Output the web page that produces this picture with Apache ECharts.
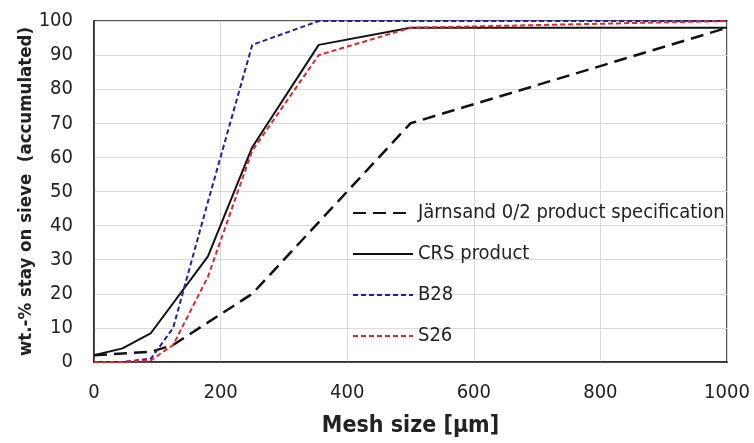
<!DOCTYPE html>
<html>
<head>
<meta charset="utf-8">
<script src="https://cdn.jsdelivr.net/npm/echarts@6/dist/echarts.min.js"></script>
<style>
  html, body { margin: 0; padding: 0; background: #fff; }
  #chart { width: 754px; height: 443px; }
</style>
</head>
<body>
<div id="chart"></div>
<script>
// Sieve mesh sizes (µm) and accumulated retained mass (%)
const meshSizes = [0, 45, 90, 125, 180, 250, 355, 500, 1000];
const b28 = [0, 0, 1, 10, 47, 93, 100, 100, 100];
const s26 = [0, 0, 0.5, 5, 25, 62, 90, 98, 100];

const crsMesh = [0, 45, 90, 180, 250, 355, 500, 1000];
const crsProduct = [2, 4, 8.5, 31, 63, 93, 98, 98];

const jarnsandMesh = [0, 90, 125, 250, 500, 1000];
const jarnsandSpec = [2, 3, 5, 20, 70, 98];

const seriesNames = ['Järnsand 0/2 product specification', 'CRS product', 'B28', 'S26'];
const xTicks = { min: 0, max: 1000, step: 200 };
const yTicks = { min: 0, max: 100, step: 10 };

const FONT = '"DejaVu Sans Condensed", "DejaVu Sans", sans-serif';

const pairs = (xs, ys) => xs.map((x, i) => [x, ys[i]]);

const chart = echarts.init(document.getElementById('chart'), null, { renderer: 'canvas' });

chart.setOption({
  animation: false,
  backgroundColor: '#ffffff',
  grid: {
    left: 94, right: 27, top: 21, bottom: 77,
    show: true, borderColor: '#222', borderWidth: 1.5, containLabel: false
  },
  legend: {
    orient: 'vertical',
    left: 347, top: 198,
    itemWidth: 60, itemHeight: 14, itemGap: 21,
    itemStyle: { opacity: 0 },
    textStyle: { fontFamily: FONT, fontSize: 20, color: '#222' },
    data: seriesNames
  },
  xAxis: {
    type: 'value',
    min: xTicks.min, max: xTicks.max, interval: xTicks.step,
    name: 'Mesh size [µm]', nameLocation: 'middle', nameGap: 53,
    nameMoveOverlap: false,
    nameTextStyle: { fontFamily: FONT, fontSize: 23, fontWeight: 'bold', color: '#222' },
    axisLine: { show: true, lineStyle: { color: '#222', width: 1.5 } },
    axisTick: { show: false },
    axisLabel: { fontFamily: FONT, fontSize: 20, color: '#222', margin: 21, formatter: v => String(v) },
    splitLine: { show: true, lineStyle: { color: '#d9d9d9', width: 1 } }
  },
  yAxis: {
    type: 'value',
    min: yTicks.min, max: yTicks.max, interval: yTicks.step,
    name: 'wt.-% stay on sieve  (accumulated)', nameLocation: 'middle', nameGap: 58,
    nameMoveOverlap: false,
    nameTextStyle: { fontFamily: FONT, fontSize: 18.5, fontWeight: 'bold', color: '#222' },
    axisLine: { show: true, lineStyle: { color: '#222', width: 1.5 } },
    axisTick: { show: false },
    axisLabel: { fontFamily: FONT, fontSize: 20, color: '#222', margin: 21 },
    splitLine: { show: true, lineStyle: { color: '#d9d9d9', width: 1 } }
  },
  series: [
    {
      name: seriesNames[0], type: 'line', symbol: 'none',
      data: pairs(jarnsandMesh, jarnsandSpec),
      lineStyle: { color: '#111', width: 2.5, type: [13, 7] },
      itemStyle: { color: '#111' }
    },
    {
      name: seriesNames[1], type: 'line', symbol: 'none',
      data: pairs(crsMesh, crsProduct),
      lineStyle: { color: '#111', width: 2 },
      itemStyle: { color: '#111' }
    },
    {
      name: seriesNames[2], type: 'line', symbol: 'none',
      data: pairs(meshSizes, b28),
      lineStyle: { color: '#1f1fa8', width: 2, type: [5, 3] },
      itemStyle: { color: '#1f1fa8' }
    },
    {
      name: seriesNames[3], type: 'line', symbol: 'none',
      data: pairs(meshSizes, s26),
      lineStyle: { color: '#e0262a', width: 2, type: [5, 3] },
      itemStyle: { color: '#e0262a' }
    }
  ]
});
</script>
</body>
</html>
